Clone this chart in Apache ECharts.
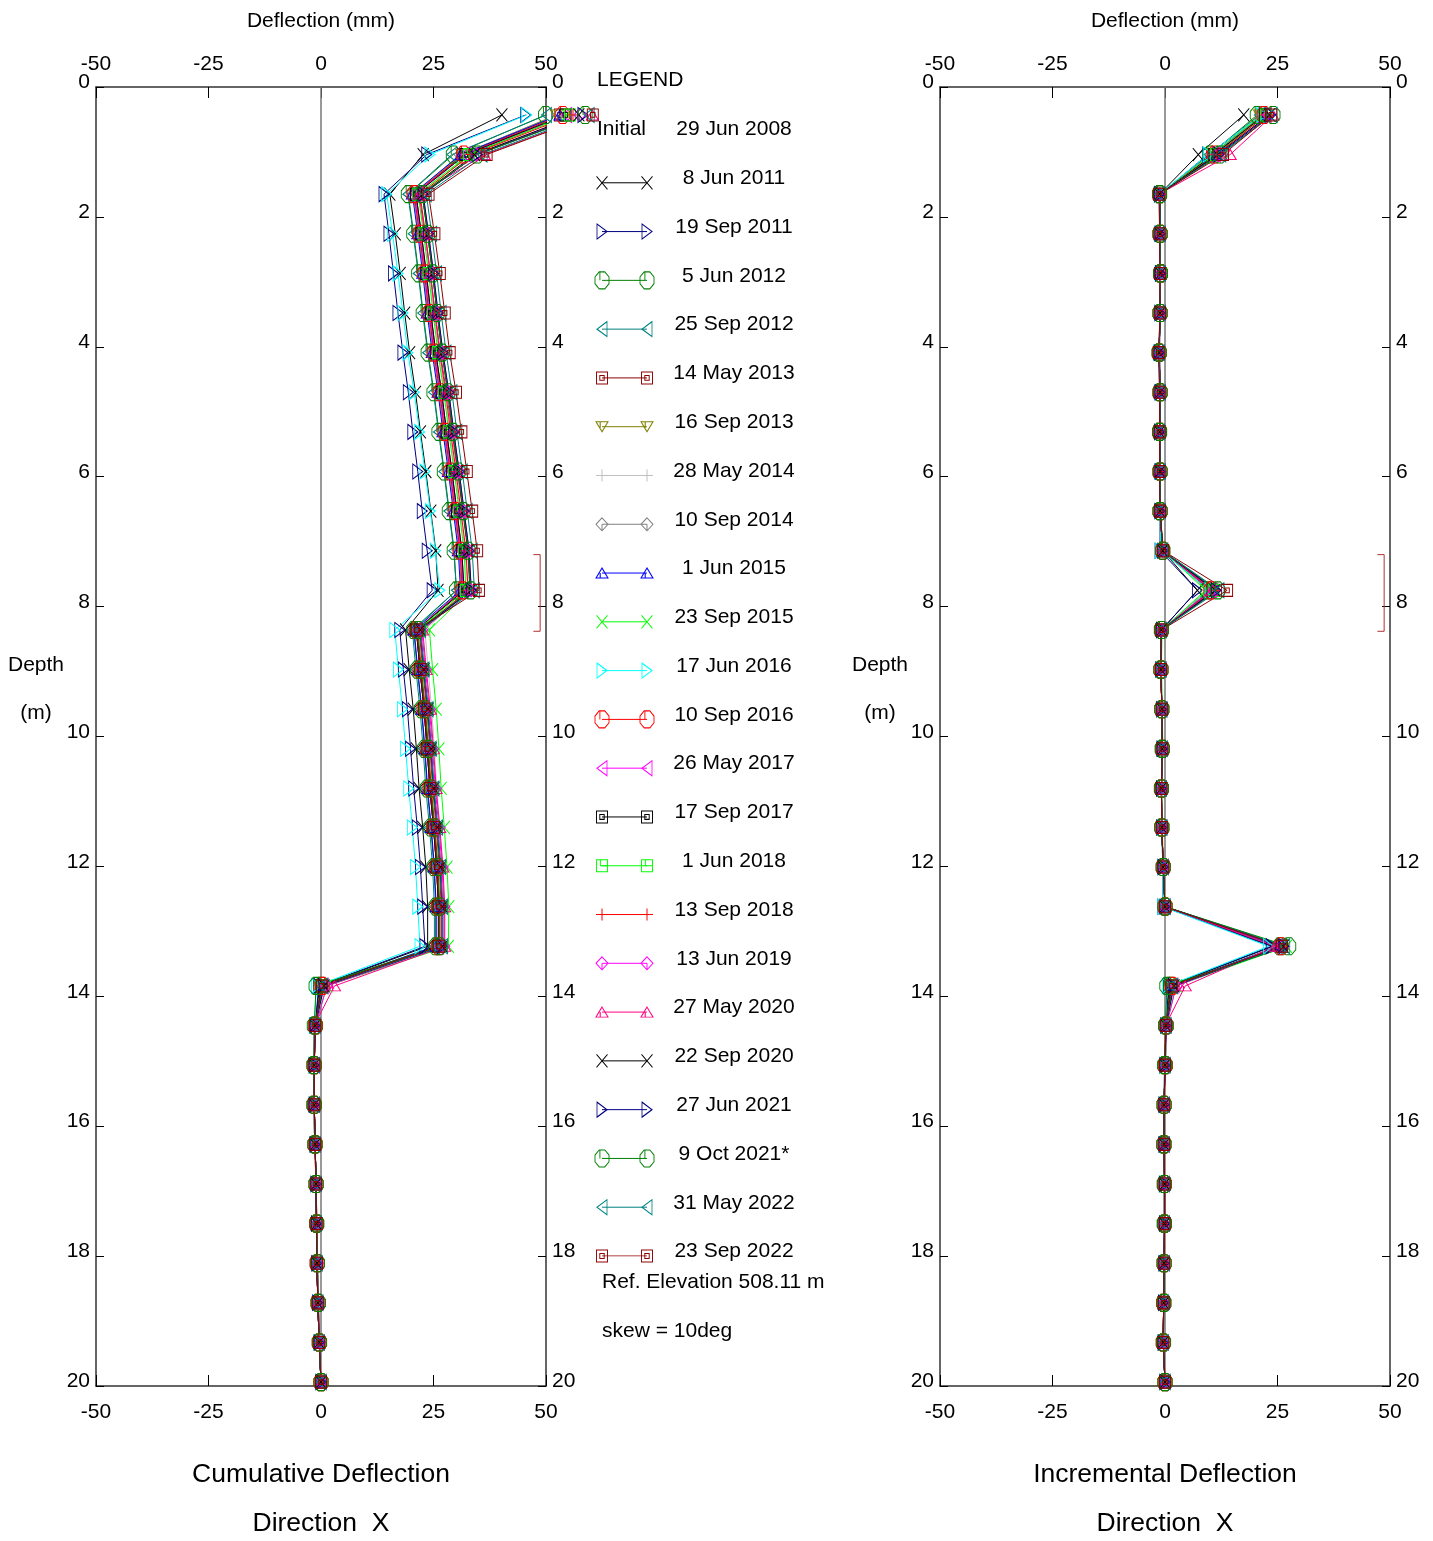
<!DOCTYPE html>
<html lang="en">
<head>
<meta charset="UTF-8">
<title>Inclinometer Deflection</title>
<script src="https://cdn.jsdelivr.net/npm/echarts@6/dist/echarts.min.js"></script>
<style>
	html, body { margin: 0; padding: 0; background: #fff; }
	#main { width: 1433px; height: 1541px; }
</style>
</head>
<body>
<div id="main"></div>
<script>
// depth of each reading (m)
var depths = [0.43, 1.04, 1.65, 2.26, 2.87, 3.48, 4.09, 4.70, 5.31, 5.92, 6.53,
	7.14, 7.75, 8.36, 8.97, 9.58, 10.19, 10.80, 11.40, 12.01, 12.62, 13.23,
	13.84, 14.45, 15.06, 15.67, 16.28, 16.89, 17.50, 18.11, 18.72, 19.33, 19.94];

var dates = ['29 Jun 2008', '8 Jun 2011', '19 Sep 2011', '5 Jun 2012', '25 Sep 2012',
	'14 May 2013', '16 Sep 2013', '28 May 2014', '10 Sep 2014', '1 Jun 2015',
	'23 Sep 2015', '17 Jun 2016', '10 Sep 2016', '26 May 2017', '17 Sep 2017',
	'1 Jun 2018', '13 Sep 2018', '13 Jun 2019', '27 May 2020', '22 Sep 2020',
	'27 Jun 2021', '9 Oct 2021*', '31 May 2022', '23 Sep 2022'];

// incremental deflection (mm), top to bottom, one array per reading
var r20110608 = [17.5, 7.4, -1.2, -1.1, -1.0, -1.1, -1.3, -1.1, -1.2, -1.1, -1.1, -0.5,
	7.2, -0.8, -0.9, -0.7, -0.6, -0.8, -0.7, -0.4, 0.0, 24.0, 1.0,
	0.2, 0.0, -0.2, -0.2, -0.1, -0.1, -0.2, -0.3, -0.4, 0];
var r20110919 = [22.0, 9.5, -1.1, -1.0, -1.0, -1.1, -1.2, -1.0, -1.1, -1.0, -1.1, -1.1,
	7.2, -0.8, -0.9, -0.7, -0.7, -0.8, -0.7, -0.5, -0.5, 23.6, 0.8,
	0.2, 0.0, -0.2, -0.2, -0.1, -0.1, -0.2, -0.3, -0.4, 0];
var r20120605 = [20.5, 10.0, -1.2, -1.1, -1.0, -1.1, -1.3, -1.1, -1.2, -1.1, -1.1, -0.5,
	9.5, -0.8, -0.9, -0.7, -0.6, -0.8, -0.7, -0.4, 0.0, 25.5, 1.2,
	0.3, 0.1, -0.2, -0.3, -0.1, -0.2, -0.2, -0.3, -0.3, 0];
var r20120925 = [21.0, 9.8, -1.2, -1.1, -1.0, -1.1, -1.3, -1.1, -1.2, -1.1, -1.1, -0.6,
	9.8, -0.8, -0.9, -0.7, -0.6, -0.8, -0.7, -0.4, 0.0, 25.0, 1.5,
	0.2, 0.0, -0.2, -0.2, -0.1, -0.1, -0.2, -0.3, -0.4, 0];
var r20130514 = [21.5, 10.5, -1.2, -1.1, -1.0, -1.1, -1.3, -1.1, -1.2, -1.1, -1.1, -0.4,
	10.5, -0.8, -0.9, -0.7, -0.6, -0.8, -0.7, -0.4, 0.0, 26.0, 1.4,
	0.2, 0.0, -0.2, -0.2, -0.1, -0.1, -0.2, -0.3, -0.4, 0];
var r20130916 = [21.0, 10.6, -1.2, -1.1, -1.0, -1.1, -1.3, -1.1, -1.2, -1.1, -1.1, -0.5,
	10.2, -0.8, -0.9, -0.7, -0.6, -0.8, -0.7, -0.4, 0.0, 25.8, 1.6,
	0.2, 0.0, -0.2, -0.2, -0.1, -0.1, -0.2, -0.3, -0.4, 0];
var r20140528 = [21.5, 10.2, -1.2, -1.1, -1.0, -1.1, -1.3, -1.1, -1.2, -1.1, -1.1, -0.6,
	9.5, -0.7, -0.8, -0.6, -0.5, -0.7, -0.6, -0.4, 0.1, 26.5, 2.0,
	0.3, 0.1, -0.2, -0.3, -0.1, -0.2, -0.2, -0.3, -0.3, 0];
var r20140910 = [21.8, 10.4, -1.2, -1.1, -1.0, -1.1, -1.3, -1.1, -1.2, -1.1, -1.1, -0.5,
	10.0, -0.8, -0.9, -0.7, -0.6, -0.8, -0.7, -0.4, 0.0, 25.6, 1.8,
	0.2, 0.0, -0.2, -0.2, -0.1, -0.1, -0.2, -0.3, -0.4, 0];
var r20150601 = [22.0, 10.8, -1.2, -1.1, -1.0, -1.1, -1.3, -1.1, -1.2, -1.1, -1.1, -0.5,
	10.3, -0.8, -0.9, -0.7, -0.6, -0.8, -0.7, -0.4, 0.0, 25.4, 1.5,
	0.2, 0.0, -0.2, -0.2, -0.1, -0.1, -0.2, -0.3, -0.4, 0];
var r20150923 = [21.6, 10.5, -1.2, -1.1, -1.0, -1.1, -1.3, -1.1, -1.2, -1.1, -1.1, -0.4,
	9.0, -0.7, -0.8, -0.6, -0.5, -0.7, -0.6, -0.4, 0.1, 27.0, 2.5,
	0.3, 0.1, -0.2, -0.3, -0.1, -0.2, -0.2, -0.3, -0.3, 0];
var r20160617 = [21.5, 9.6, -1.3, -1.2, -1.1, -1.1, -1.4, -1.2, -1.2, -1.2, -1.1, -1.0,
	10.0, -0.8, -0.9, -0.7, -0.7, -0.8, -0.7, -0.5, -0.5, 23.0, 0.5,
	0.1, -0.1, -0.2, -0.2, -0.2, -0.1, -0.2, -0.2, -0.4, 0];
var r20160910 = [22.0, 11.0, -1.2, -1.1, -1.0, -1.1, -1.3, -1.1, -1.2, -1.1, -1.1, -0.5,
	10.2, -0.8, -0.9, -0.7, -0.6, -0.8, -0.7, -0.4, 0.0, 25.8, 1.6,
	0.2, 0.0, -0.2, -0.2, -0.1, -0.1, -0.2, -0.3, -0.4, 0];
var r20170526 = [22.5, 11.2, -1.2, -1.1, -1.0, -1.1, -1.3, -1.1, -1.2, -1.1, -1.1, -0.5,
	10.4, -0.8, -0.9, -0.7, -0.6, -0.8, -0.7, -0.4, 0.0, 25.6, 1.8,
	0.2, 0.0, -0.2, -0.2, -0.1, -0.1, -0.2, -0.3, -0.4, 0];
var r20170917 = [22.2, 11.0, -1.2, -1.1, -1.0, -1.1, -1.3, -1.1, -1.2, -1.1, -1.1, -0.5,
	10.6, -0.8, -0.9, -0.7, -0.6, -0.8, -0.7, -0.4, 0.0, 25.9, 1.5,
	0.2, 0.0, -0.2, -0.2, -0.1, -0.1, -0.2, -0.3, -0.4, 0];
var r20180601 = [22.4, 11.3, -1.2, -1.1, -1.0, -1.1, -1.3, -1.1, -1.2, -1.1, -1.1, -0.4,
	10.8, -0.8, -0.9, -0.7, -0.6, -0.8, -0.7, -0.4, 0.0, 26.0, 1.6,
	0.2, 0.0, -0.2, -0.2, -0.1, -0.1, -0.2, -0.3, -0.4, 0];
var r20180913 = [22.6, 11.4, -1.2, -1.1, -1.0, -1.1, -1.3, -1.1, -1.2, -1.1, -1.1, -0.5,
	10.9, -0.8, -0.9, -0.7, -0.6, -0.8, -0.7, -0.4, 0.0, 26.2, 1.8,
	0.2, 0.0, -0.2, -0.2, -0.1, -0.1, -0.2, -0.3, -0.4, 0];
var r20190613 = [23.0, 11.8, -1.2, -1.1, -1.0, -1.1, -1.3, -1.1, -1.2, -1.1, -1.1, -0.5,
	11.0, -0.8, -0.9, -0.7, -0.6, -0.8, -0.7, -0.4, 0.0, 26.0, 2.5,
	0.3, 0.1, -0.2, -0.3, -0.1, -0.2, -0.2, -0.3, -0.3, 0];
var r20200527 = [24.0, 14.5, -1.3, -1.2, -1.1, -1.1, -1.4, -1.2, -1.2, -1.2, -1.1, -0.5,
	10.5, -0.8, -0.9, -0.7, -0.6, -0.8, -0.7, -0.4, 0.0, 24.5, 4.5,
	0.1, -0.1, -0.2, -0.2, -0.2, -0.1, -0.2, -0.2, -0.4, 0];
var r20200922 = [23.2, 11.6, -1.2, -1.1, -1.0, -1.1, -1.3, -1.1, -1.2, -1.1, -1.1, -0.5,
	11.1, -0.8, -0.9, -0.7, -0.6, -0.8, -0.7, -0.4, 0.0, 26.3, 2.0,
	0.2, 0.0, -0.2, -0.2, -0.1, -0.1, -0.2, -0.3, -0.4, 0];
var r20210627 = [23.5, 12.0, -1.2, -1.1, -1.0, -1.1, -1.3, -1.1, -1.2, -1.1, -1.1, -0.5,
	11.4, -0.8, -0.9, -0.7, -0.6, -0.8, -0.7, -0.4, 0.0, 26.4, 1.8,
	0.2, 0.0, -0.2, -0.2, -0.1, -0.1, -0.2, -0.3, -0.4, 0];
var r20211009 = [24.0, 12.2, -1.2, -1.1, -1.0, -1.1, -1.3, -1.1, -1.2, -1.1, -1.1, -0.5,
	11.7, -0.8, -0.9, -0.7, -0.6, -0.8, -0.7, -0.4, 0.0, 27.5, 0.4,
	0.1, -0.1, -0.2, -0.2, -0.2, -0.1, -0.2, -0.2, -0.4, 0];
var r20220531 = [23.8, 12.4, -1.2, -1.1, -1.0, -1.1, -1.3, -1.1, -1.2, -1.1, -1.1, -0.5,
	12.0, -0.8, -0.9, -0.7, -0.6, -0.8, -0.7, -0.4, 0.0, 26.6, 1.7,
	0.2, 0.0, -0.2, -0.2, -0.1, -0.1, -0.2, -0.3, -0.4, 0];
var r20220923 = [23.6, 12.9, -1.3, -1.2, -1.1, -1.1, -1.4, -1.2, -1.2, -1.2, -1.1, -0.4,
	13.8, -0.8, -0.9, -0.7, -0.6, -0.8, -0.7, -0.4, 0.0, 26.0, 1.5,
	0.2, 0.0, -0.2, -0.2, -0.1, -0.1, -0.2, -0.3, -0.4, 0];

var readings = [r20110608, r20110919, r20120605, r20120925, r20130514, r20130916,
	r20140528, r20140910, r20150601, r20150923, r20160617, r20160910, r20170526,
	r20170917, r20180601, r20180913, r20190613, r20200527, r20200922, r20210627,
	r20211009, r20220531, r20220923];

// shear zone bracket (mm, m)
var zoneX = [47.2, 48.7, 48.7, 47.2];
var zoneDepth = [7.2, 7.2, 8.38, 8.38];

// styles
var colors = ['#000000', '#000080', '#008000', '#008080', '#900000', '#808000',
	'#c0c0c0', '#808080', '#0000ff', '#00ff00', '#00ffff', '#ff0000', '#ff00ff',
	'#000000', '#00ff00', '#ff0000', '#ff00ff', '#ff0080', '#000000', '#000080',
	'#008000', '#008080', '#900000'];
var shapes = {
	x: 'path://M0,0L10,10M10,0L0,10',
	triR: 'path://M0,0L10,5L0,10Z',
	triL: 'path://M10,0L0,5L10,10Z',
	oct: 'path://M3,0L7,0L10,3L10,7L7,10L3,10L0,7L0,3ZM3.5,0L3.5,5',
	sqDot: 'path://M0,0L10,0L10,10L0,10ZM3,3L7,3L7,7L3,7Z',
	sqTick: 'path://M0,0L10,0L10,10L0,10ZM3.5,0L3.5,5L10,5',
	triD: 'path://M0,0L10,0L5,10ZM3.5,0L3.5,6',
	triU: 'path://M5,0L10,10L0,10ZM3.5,5L3.5,10',
	plus: 'path://M5,0L5,10M0,5L10,5',
	diamond: 'path://M5,0L10,5L5,10L0,5ZM5,5L5,10'
};
var marks = ['x', 'triR', 'oct', 'triL', 'sqDot', 'triD', 'plus', 'diamond', 'triU', 'x',
	'triR', 'oct', 'triL', 'sqDot', 'sqTick', 'plus', 'diamond', 'triU', 'x', 'triR',
	'oct', 'triL', 'sqDot'];
var markSize = {
	x: [11, 13], triR: [10, 15], triL: [10, 15], oct: [14, 17], sqDot: [11, 12],
	sqTick: [11, 12], triD: [12, 10], triU: [12, 10], plus: [12, 12], diamond: [12, 13]
};

var font = 'Liberation Sans, Arial, Helvetica, sans-serif';

function cumulate(inc) {
	var out = [];
	var s = 0;
	for (var i = inc.length - 1; i >= 0; i--) {
		s += inc[i];
		out[i] = Math.round(s * 10) / 10;
	}
	return out;
}

function xAx(grid, pos, name) {
	return {
		gridIndex: grid, type: 'value', position: pos, min: -50, max: 50, interval: 25,
		name: name, nameLocation: 'middle', nameGap: 55,
		nameTextStyle: { fontSize: 21, color: '#000', fontFamily: font },
		axisLine: { show: true, onZero: false, lineStyle: { color: '#333', width: 1.5 } },
		axisTick: { show: true, inside: true, length: 11, lineStyle: { color: '#000' } },
		axisLabel: { fontSize: 21, color: '#000', fontFamily: font, margin: pos === 'top' ? 12 : 16 },
		splitLine: { show: false }
	};
}
function yAx(grid, pos) {
	return {
		gridIndex: grid, type: 'value', position: pos, inverse: true, min: 0, max: 20, interval: 2,
		axisLine: { show: true, onZero: false, lineStyle: { color: '#333', width: 1.5 } },
		axisTick: { show: true, inside: true, length: 8, lineStyle: { color: '#000' } },
		axisLabel: { fontSize: 21, color: '#000', fontFamily: font, margin: 6,
			verticalAlign: 'bottom', lineHeight: 9 },
		splitLine: { show: false }
	};
}

var series = [];
// zero lines and shear-zone brackets
[0, 1].forEach(function (g) {
	series.push({
		type: 'line', xAxisIndex: g * 2, yAxisIndex: g * 2, symbol: 'none', silent: true,
		lineStyle: { color: '#777', width: 1.5 }, data: [[0, 0], [0, 20]]
	});
	series.push({
		type: 'line', xAxisIndex: g * 2, yAxisIndex: g * 2, symbol: 'none', silent: true,
		lineStyle: { color: '#b03030', width: 1 },
		data: zoneX.map(function (x, i) { return [x, zoneDepth[i]]; })
	});
});

readings.forEach(function (inc, k) {
	var c = colors[k];
	var m = marks[k];
	var common = {
		type: 'line', symbol: shapes[m], symbolSize: markSize[m], showAllSymbol: true,
		clip: false,
		itemStyle: { color: 'rgba(0,0,0,0)', borderColor: c, borderWidth: 1 },
		lineStyle: { color: c, width: 1 }, emphasis: { disabled: true }, name: dates[k + 1]
	};
	var cum = cumulate(inc);
	series.push(Object.assign({}, common, {
		xAxisIndex: 0, yAxisIndex: 0,
		data: cum.map(function (v, i) { return [v, depths[i]]; })
	}));
	series.push(Object.assign({}, common, {
		xAxisIndex: 2, yAxisIndex: 2,
		data: inc.map(function (v, i) { return [v, depths[i]]; })
	}));
	series.push(Object.assign({}, common, {
		xAxisIndex: 4, yAxisIndex: 4,
		data: [[0, dates[k + 1]], [1, dates[k + 1]]]
	}));
});

function txt(x, y, s, size, align) {
	return {
		type: 'text', x: x, y: y,
		style: { text: s, fontSize: size, fontFamily: font, fill: '#000',
			align: align || 'center', verticalAlign: 'middle' }
	};
}

var option = {
	animation: false,
	backgroundColor: '#fff',
	grid: [
		{ left: 96, top: 87, width: 450, height: 1299 },
		{ left: 940, top: 87, width: 450, height: 1299 },
		{ left: 602, top: 134, width: 45, height: 1122 }
	],
	xAxis: [
		xAx(0, 'top', 'Deflection (mm)'), xAx(0, 'bottom', ''),
		xAx(1, 'top', 'Deflection (mm)'), xAx(1, 'bottom', ''),
		{ gridIndex: 2, type: 'value', min: 0, max: 1, show: false }
	],
	yAxis: [
		yAx(0, 'left'), yAx(0, 'right'), yAx(1, 'left'), yAx(1, 'right'),
		{
			gridIndex: 2, type: 'category', data: dates, inverse: true, boundaryGap: false,
			position: 'right', axisLine: { show: false }, axisTick: { show: false },
			axisLabel: { fontSize: 21, color: '#000', fontFamily: font, margin: 87,
				align: 'center', verticalAlign: 'bottom', lineHeight: 9, interval: 0 }
		}
	],
	graphic: [
		txt(597, 80, 'LEGEND', 21, 'left'),
		txt(597, 129, 'Initial', 21, 'left'),
		txt(602, 1282, 'Ref. Elevation 508.11 m', 21, 'left'),
		txt(602, 1331, 'skew = 10deg', 21, 'left'),
		txt(36, 665, 'Depth', 21), txt(36, 713, '(m)', 21),
		txt(880, 665, 'Depth', 21), txt(880, 713, '(m)', 21),
		txt(321, 1475, 'Cumulative Deflection', 26.5),
		txt(321, 1524, 'Direction  X', 26.5),
		txt(1165, 1475, 'Incremental Deflection', 26.5),
		txt(1165, 1524, 'Direction  X', 26.5)
	],
	series: series
};

var myChart = echarts.init(document.getElementById('main'), null, { renderer: 'canvas' });
myChart.setOption(option);
</script>
</body>
</html>
